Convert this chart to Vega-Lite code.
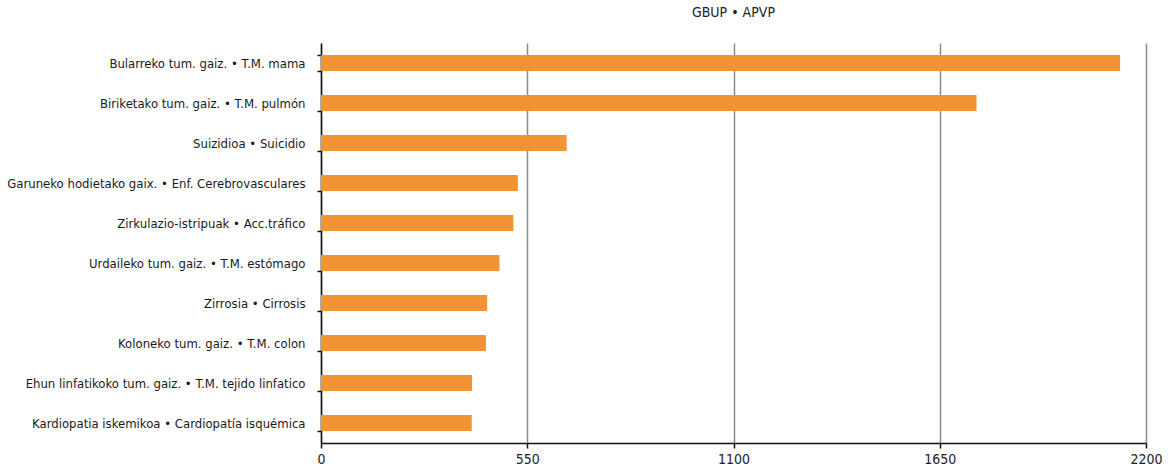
{
  "$schema": "https://vega.github.io/schema/vega-lite/v6.json",
  "width": 825,
  "height": 400,
  "autosize": {"type": "none"},
  "padding": {"left": 321, "top": 43, "right": 25, "bottom": 28},
  "background": "white",
  "title": {
    "text": "GBUP • APVP",
    "anchor": "middle",
    "font": "Liberation Sans Narrow, DejaVu Sans Condensed, sans-serif",
    "fontSize": 14,
    "fontWeight": "normal",
    "color": "#222",
    "offset": 17
  },
  "data": {
    "values": [
      {"label": "Bularreko tum. gaiz. • T.M. mama", "value": 2131},
      {"label": "Biriketako tum. gaiz. • T.M. pulmón", "value": 1748},
      {"label": "Suizidioa • Suicidio", "value": 655},
      {"label": "Garuneko hodietako gaix. • Enf. Cerebrovasculares", "value": 525},
      {"label": "Zirkulazio-istripuak • Acc.tráfico", "value": 513},
      {"label": "Urdaileko tum. gaiz. • T.M. estómago", "value": 476},
      {"label": "Zirrosia • Cirrosis", "value": 443},
      {"label": "Koloneko tum. gaiz. • T.M. colon", "value": 440},
      {"label": "Ehun linfatikoko tum. gaiz. • T.M. tejido linfatico", "value": 403},
      {"label": "Kardiopatia iskemikoa • Cardiopatía isquémica", "value": 402}
    ]
  },
  "mark": {"type": "bar", "color": "#F29431"},
  "encoding": {
    "y": {
      "field": "label",
      "type": "nominal",
      "sort": {"field": "value", "order": "descending"},
      "scale": {"paddingInner": 0.6, "paddingOuter": 0.3},
      "axis": {
        "title": null,
        "domainColor": "#111",
        "domainWidth": 1.5,
        "tickColor": "#111",
        "tickWidth": 1.5,
        "tickSize": 4,
        "tickBand": "extent",
        "labelFont": "Liberation Sans Narrow, DejaVu Sans Condensed, sans-serif",
        "labelFontSize": 13,
        "labelColor": "#1a1a1a",
        "labelPadding": 12,
        "labelLimit": 400
      }
    },
    "x": {
      "field": "value",
      "type": "quantitative",
      "scale": {"domain": [0, 2200], "nice": false},
      "axis": {
        "title": null,
        "values": [0, 550, 1100, 1650, 2200],
        "format": "d",
        "grid": true,
        "gridColor": "#8a8a8a",
        "gridWidth": 1.5,
        "domainColor": "#111",
        "domainWidth": 1.5,
        "tickColor": "#111",
        "tickWidth": 1.5,
        "tickSize": 5,
        "labelFont": "Liberation Sans Narrow, DejaVu Sans Condensed, sans-serif",
        "labelFontSize": 14,
        "labelColor": "#222",
        "labelPadding": 4,
        "labelFlush": false
      }
    }
  },
  "config": {"view": {"stroke": null}}
}
